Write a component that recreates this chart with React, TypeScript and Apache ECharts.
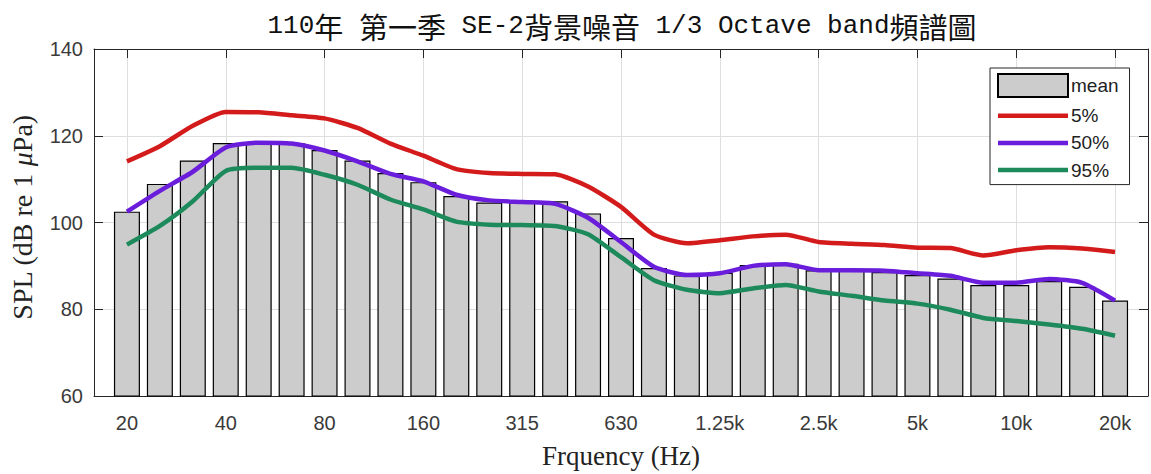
import React, { useEffect, useRef } from "react";
import * as echarts from "echarts";

const bands = ["20","25","31.5","40","50","63","80","100","125","160","200","250","315","400","500","630","800","1k","1.25k","1.6k","2k","2.5k","3.15k","4k","5k","6.3k","8k","10k","12.5k","16k","20k"];
const labeledBands = ["20","40","80","160","315","630","1.25k","2.5k","5k","10k","20k"];
const meanSPL = [102.5,108.9,114.3,118.3,118.4,118.3,116.7,114.3,111.4,109.3,106.1,104.6,104.7,104.9,102.1,96.4,89.5,87.8,88.4,90.2,90.5,89.0,88.9,88.6,87.9,87.1,85.6,85.6,86.5,85.2,82.0];
const p5 = [114.1,117.6,122.3,125.5,125.4,124.7,124.0,121.8,118.2,115.4,112.3,111.4,111.2,111.1,108.3,103.6,97.2,95.2,95.9,96.8,97.2,95.5,95.1,94.8,94.2,94.1,92.4,93.6,94.3,94.0,93.2];
const p50 = [102.5,107.3,111.7,117.3,118.4,118.2,116.6,114.1,111.2,109.5,106.4,105.1,104.7,104.3,101.1,95.5,89.8,87.9,88.3,90.0,90.4,89.0,89.0,88.9,88.3,87.7,86.1,86.1,87.0,86.1,82.0];
const p95 = [94.9,99.2,104.9,111.9,112.6,112.6,111.0,108.7,105.3,103.0,100.2,99.5,99.4,99.2,97.3,92.0,86.7,84.5,83.7,84.8,85.6,84.1,83.1,82.0,81.3,79.9,78.0,77.3,76.5,75.5,73.9];
const yTicks = [60, 80, 100, 120, 140];

const pad = (arr: any[]) => [null, ...arr, null];

export default function App() {
  const ref = useRef<HTMLDivElement>(null);
  useEffect(() => {
    if (!ref.current) return;
    const chart = echarts.init(ref.current, null, { renderer: "svg" });
    const cats = ["", ...bands, ""];
    const showIdx = (i: number) => labeledBands.includes(cats[i]);
    const axisColor = "#262626";
    const gridColor = "#dedede";
    const tickFont = { fontFamily: "Liberation Sans, Arial, sans-serif", fontSize: 20, color: "#3a3a3a" };
    const nameFont = { fontFamily: "Liberation Serif, Times New Roman, serif", fontSize: 27, color: "#222" };
    const titleText = "{l|110}{c|年}{l| }{c|第一季}{l| SE-2}{c|背景噪音}{l| 1/3 Octave band}{c|頻譜圖}";
    const lineIcon = "path://M0 0H70V4.5H0Z";

    chart.setOption({
      animation: false,
      backgroundColor: "#fff",
      grid: { left: 93, top: 49, right: 3, bottom: 73, containLabel: false },
      graphic: [
        {
          type: "text",
          x: 622,
          y: 26,
          style: {
            text: titleText,
            align: "center",
            verticalAlign: "middle",
            fill: "#000",
            rich: {
              l: { fontFamily: "Liberation Mono, monospace", fontSize: 26, fill: "#111", color: "#111", verticalAlign: "middle" },
              c: { fontFamily: "Noto Sans CJK TC", fontSize: 29, fill: "#111", color: "#111", verticalAlign: "middle" },
            },
          },
        },
      ],
      legend: {
        orient: "vertical",
        left: 990,
        top: 68,
        itemWidth: 70,
        itemHeight: 23,
        itemGap: 8.2,
        padding: [5, 11, 5, 7],
        borderColor: axisColor,
        borderWidth: 1,
        backgroundColor: "#fff",
        symbolKeepAspect: true,
        textStyle: { fontFamily: "Liberation Sans, Arial, sans-serif", fontSize: 19, color: "#222", padding: [0, 0, 0, -2] },
        data: [
          { name: "mean", icon: "rect" },
          { name: "5%", icon: lineIcon },
          { name: "50%", icon: lineIcon },
          { name: "95%", icon: lineIcon },
        ],
      },
      xAxis: [
        {
          type: "category",
          data: cats,
          boundaryGap: false,
          position: "bottom",
          axisLine: { show: true, lineStyle: { color: axisColor, width: 1 } },
          axisTick: { show: true, inside: true, length: 9, interval: (i: number) => showIdx(i), lineStyle: { color: axisColor } },
          axisLabel: { show: true, interval: (i: number) => showIdx(i), margin: 17, ...tickFont },
          splitLine: { show: true, interval: (i: number) => showIdx(i), lineStyle: { color: gridColor, width: 1 } },
          name: "Frquency (Hz)",
          nameLocation: "middle",
          nameGap: 46,
          nameTextStyle: nameFont,
        },
        {
          type: "category",
          data: cats,
          boundaryGap: false,
          position: "top",
          axisLine: { show: true, lineStyle: { color: axisColor, width: 1 } },
          axisTick: { show: true, inside: true, length: 9, interval: (i: number) => showIdx(i), lineStyle: { color: axisColor } },
          axisLabel: { show: false },
          splitLine: { show: false },
        },
      ],
      yAxis: [
        {
          type: "value",
          min: yTicks[0],
          max: yTicks[yTicks.length - 1],
          interval: 20,
          position: "left",
          axisLine: { show: true, lineStyle: { color: axisColor, width: 1 } },
          axisTick: { show: true, inside: true, length: 9, lineStyle: { color: axisColor } },
          axisLabel: { margin: 11, ...tickFont },
          splitLine: { show: true, lineStyle: { color: gridColor, width: 1 } },
          name: "SPL (dB re 1 {i|μ}Pa)",
          nameLocation: "middle",
          nameGap: 58,
          nameTextStyle: {
            ...nameFont,
            fontSize: 28,
            padding: [0, 0, 0, 10],
            rich: { i: { fontFamily: "Liberation Serif, serif", fontSize: 28, fontStyle: "italic", color: "#222" } },
          },
        },
        {
          type: "value",
          min: yTicks[0],
          max: yTicks[yTicks.length - 1],
          interval: 20,
          position: "right",
          axisLine: { show: true, lineStyle: { color: axisColor, width: 1 } },
          axisTick: { show: true, inside: true, length: 9, lineStyle: { color: axisColor } },
          axisLabel: { show: false },
          splitLine: { show: false },
        },
      ],
      series: [
        {
          name: "mean",
          type: "bar",
          data: pad(meanSPL),
          barWidth: 26,
          itemStyle: { color: "#cccccc", borderColor: "#000", borderWidth: 1.2 },
          z: 2,
        },
        {
          name: "5%",
          type: "line",
          data: pad(p5),
          symbol: "none",
          smooth: 0.2,
          lineStyle: { color: "#d41b1b", width: 4.5 },
          itemStyle: { color: "#d41b1b" },
          z: 3,
        },
        {
          name: "50%",
          type: "line",
          data: pad(p50),
          symbol: "none",
          smooth: 0.2,
          lineStyle: { color: "#6a1ddb", width: 4.5 },
          itemStyle: { color: "#6a1ddb" },
          z: 4,
        },
        {
          name: "95%",
          type: "line",
          data: pad(p95),
          symbol: "none",
          smooth: 0.2,
          lineStyle: { color: "#1d8a5c", width: 4.5 },
          itemStyle: { color: "#1d8a5c" },
          z: 5,
        },
      ],
    });
    return () => chart.dispose();
  }, []);
  return (
    <div
      ref={ref}
      style={{ position: "fixed", left: 0, top: 0, width: 1151, height: 474, background: "#fff" }}
    />
  );
}
